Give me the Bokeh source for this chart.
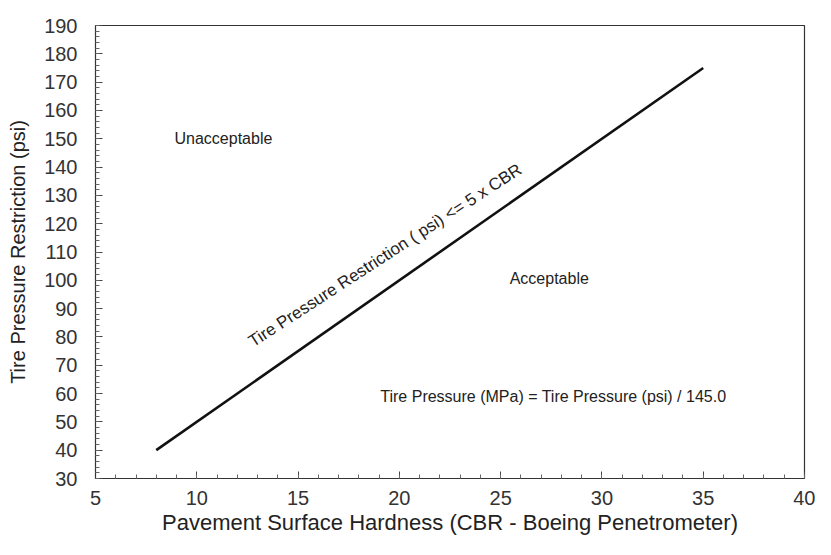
from bokeh.plotting import figure
from bokeh.models import Label, Range1d, SingleIntervalTicker
from bokeh.embed import file_html
from bokeh.resources import INLINE

# data
cbr = [8, 35]
psi_limit = [40, 175]

x_range = (5, 40)
y_range = (30, 190)

label_texts = ["Unacceptable", "Acceptable",
               "Tire Pressure (MPa) = Tire Pressure (psi) / 145.0",
               "Tire Pressure Restriction ( psi) <= 5 x CBR"]
label_x = [8.9, 27.4, 27.6, 19.3]
label_y = [150, 100.5, 59, 108.8]

FONT = "Liberation Sans"

p = figure(width=815, height=539, output_backend="svg", toolbar_location=None,
           x_range=Range1d(*x_range), y_range=Range1d(*y_range),
           min_border_left=95, min_border_right=11, min_border_top=25, min_border_bottom=61)
p.grid.visible = False
p.outline_line_color = "#333333"
p.outline_line_width = 1.2
p.background_fill_color = "white"
p.border_fill_color = "white"

p.xaxis.ticker = SingleIntervalTicker(interval=5, num_minor_ticks=5)
p.yaxis.ticker = SingleIntervalTicker(interval=10, num_minor_ticks=5)

for ax in (p.xaxis[0], p.yaxis[0]):
    ax.major_tick_in = 7
    ax.major_tick_out = 0
    ax.minor_tick_in = 4
    ax.minor_tick_out = 0
    ax.axis_line_color = "#333333"
    ax.major_tick_line_color = "#444444"
    ax.minor_tick_line_color = "#666666"
    ax.major_label_text_font = FONT
    ax.major_label_text_font_size = "20px"
    ax.major_label_text_color = "#333333"
    ax.axis_label_text_font = FONT
    ax.axis_label_text_font_style = "normal"
    ax.axis_label_text_color = "#222222"

p.xaxis.axis_label = "Pavement Surface Hardness (CBR - Boeing Penetrometer)"
p.yaxis.axis_label = "Tire Pressure Restriction (psi)"
p.xaxis.axis_label_text_font_size = "22px"
p.yaxis.axis_label_text_font_size = "20px"
p.xaxis.major_label_standoff = 12
p.xaxis.axis_label_standoff = 2
p.yaxis.major_label_standoff = 18
p.yaxis.axis_label_standoff = 12

p.line(cbr, psi_limit, line_color="#111111", line_width=2.6)

sizes = ["16px", "16px", "16px", "17px"]
for i, t in enumerate(label_texts):
    align = "left" if i == 0 else "center"
    angle = 33 if i == 3 else 0
    p.add_layout(Label(x=label_x[i], y=label_y[i], text=t, text_font=FONT,
                       text_font_size=sizes[i], text_color="#222222",
                       text_align=align, text_baseline="middle",
                       angle=angle, angle_units="deg"))

open("out.html", "w").write(file_html(p, INLINE))
